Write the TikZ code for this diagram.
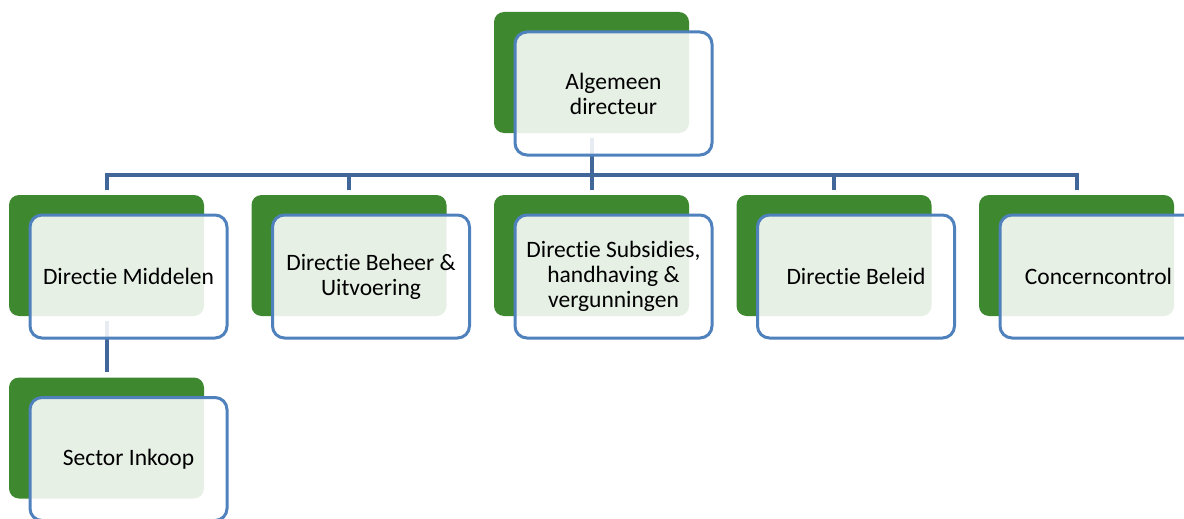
\documentclass[tikz,border=0pt]{standalone}
\usepackage{fontspec}
\setmainfont{Carlito}[Ligatures=NoCommon]
\usetikzlibrary{
	positioning
	, calc
	, backgrounds
}

\definecolor{unitgreen}{RGB}{62,137,48}
\definecolor{unitblue}{RGB}{79,129,189}
\definecolor{linkblue}{RGB}{65,103,154}

\begin{document}
\begin{tikzpicture}[x=1pt, y=-1pt
		, backbox/.style={rectangle, rounded corners=10pt, fill=unitgreen, minimum width=195pt, minimum height=121pt, inner sep=0pt}
		, frontbox/.style={rectangle, rounded corners=12pt, draw=unitblue, line width=3pt, fill=white, fill opacity=0.88, text opacity=1, minimum width=197pt, minimum height=123pt, inner sep=0pt, align=center, font=\fontsize{23.5}{25}\selectfont}
		, orgline/.style={draw=linkblue, line width=4pt}]

		\useasboundingbox (0,0) rectangle (1184,519);

		%%% Top: general director
		\node[backbox] (algemeenback) at (591.5,72.5) {};
		\node[frontbox] (algemeen) at ([xshift=22pt,yshift=-21pt]algemeenback.center) {Algemeen\\directeur};

		%%% Directorates in one row
		\foreach [count=\i] \unit/\name in {middelen/{Directie Middelen}, beheer/{Directie Beheer \&\\Uitvoering}, subsidies/{Directie Subsidies,\\handhaving \&\\vergunningen}, beleid/{Directie Beleid}, control/{Concerncontrol}} {

			% Green card with the white card on top of it
			\node[backbox] (\unit back) at ({106.5 + 242.5*(\i - 1)}, 255.5) {};
			\node[frontbox] (\unit) at ([xshift=22pt,yshift=-21pt]\unit back.center) {\name};
		};

		%%% Sector below Middelen
		\node[backbox] (inkoopback) at (106.5,438) {};
		\node[frontbox] (inkoop) at ([xshift=22pt,yshift=-21pt]inkoopback.center) {Sector Inkoop};

		%%% Lines, behind the cards
		\begin{pgfonlayer}{background}
			\foreach \unit in {middelen, beheer, subsidies, beleid, control} {
				\draw[orgline] ([yshift=-5pt]algemeenback.south) |- ([yshift=20pt]\unit back.north) -- ([yshift=5pt]\unit back.north);
			};
			\draw[orgline] ([yshift=-5pt]middelenback.south) -- ([yshift=5pt]inkoopback.north);
		\end{pgfonlayer}
	\end{tikzpicture}
\end{document}
